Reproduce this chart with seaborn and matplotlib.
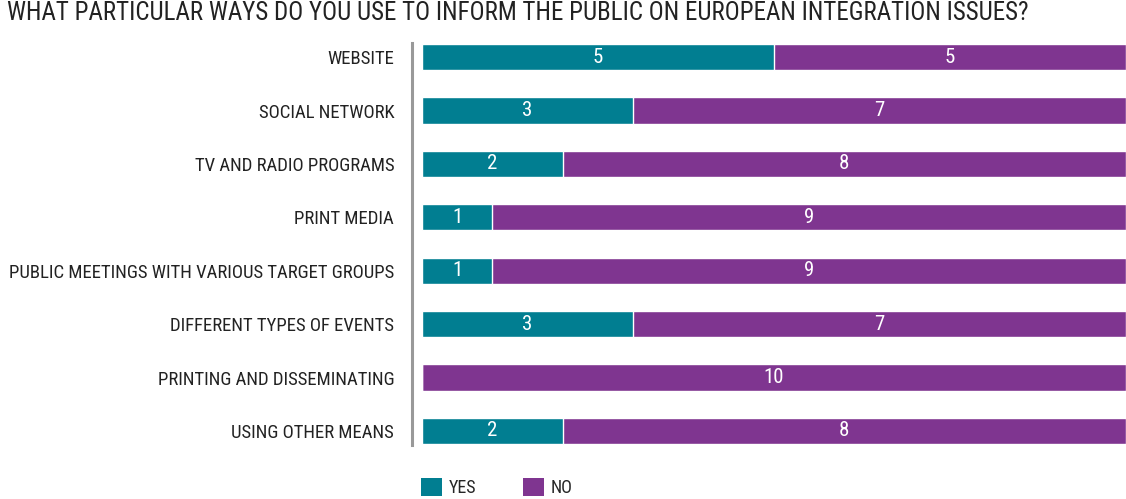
import matplotlib
matplotlib.use("Agg")
import matplotlib.pyplot as plt
from matplotlib.patches import Patch
import seaborn as sns
import pandas as pd

categories = [
    "WEBSITE",
    "SOCIAL NETWORK",
    "TV AND RADIO PROGRAMS",
    "PRINT MEDIA",
    "PUBLIC MEETINGS WITH VARIOUS TARGET GROUPS",
    "DIFFERENT TYPES OF EVENTS",
    "PRINTING AND DISSEMINATING",
    "USING OTHER MEANS",
]
yes_counts = [5, 3, 2, 1, 1, 3, 0, 2]
no_counts = [5, 7, 8, 9, 9, 7, 10, 8]
series_names = ["YES", "NO"]
title = "WHAT PARTICULAR WAYS DO YOU USE TO INFORM THE PUBLIC ON EUROPEAN INTEGRATION ISSUES?"

TEAL = "#017E91"
PURPLE = "#7F3590"

sns.set_theme(style="white")
plt.rcParams["font.family"] = ["Roboto Condensed", "DejaVu Sans"]

df = pd.DataFrame({"category": categories, "yes": yes_counts, "no": no_counts})
df["total"] = df["yes"] + df["no"]

fig = plt.figure(figsize=(11.26, 4.99), dpi=100)
ax = fig.add_axes([0.3748, 0.0828, 0.6252, 0.8562])

# stacked bars: full total in purple, YES share drawn over it in teal
sns.barplot(data=df, x="total", y="category", color=PURPLE, width=0.49,
            saturation=1, ax=ax, orient="h")
sns.barplot(data=df, x="yes", y="category", color=TEAL, width=0.49,
            saturation=1, ax=ax, orient="h")

for i, (y, n) in enumerate(zip(yes_counts, no_counts)):
    if y > 0:
        ax.text(y / 2, i, str(y), ha="center", va="center", color="white", fontsize=15)
    if n > 0:
        ax.text(y + n / 2, i, str(n), ha="center", va="center", color="white", fontsize=15)

ax.set_xlim(0, 10)
ax.set_ylim(len(categories) - 0.5, -0.5)
ax.set_xlabel("")
ax.set_ylabel("")
ax.set_xticks([])
ax.tick_params(axis="y", length=0, pad=13, labelsize=13.5, labelcolor="#222222")
for s in ["top", "right", "bottom"]:
    ax.spines[s].set_visible(False)
ax.spines["left"].set_position(("outward", 7))
ax.spines["left"].set_color("#999999")
ax.spines["left"].set_linewidth(2.2)
ax.spines["left"].set_bounds(-0.26, len(categories) - 0.74)

fig.text(0.006, 0.973, title, fontsize=18, color="#222222", ha="left", va="center")

handles = [Patch(facecolor=TEAL, edgecolor="none"), Patch(facecolor=PURPLE, edgecolor="none")]
fig.legend(handles, series_names, loc="lower left", bbox_to_anchor=(421 / 1126, 2 / 499),
           ncol=2, frameon=False, fontsize=13, handlelength=1.17, handleheight=1.17,
           columnspacing=2.6, handletextpad=0.35, borderpad=0, borderaxespad=0)

fig.savefig("out.png", dpi=100)
